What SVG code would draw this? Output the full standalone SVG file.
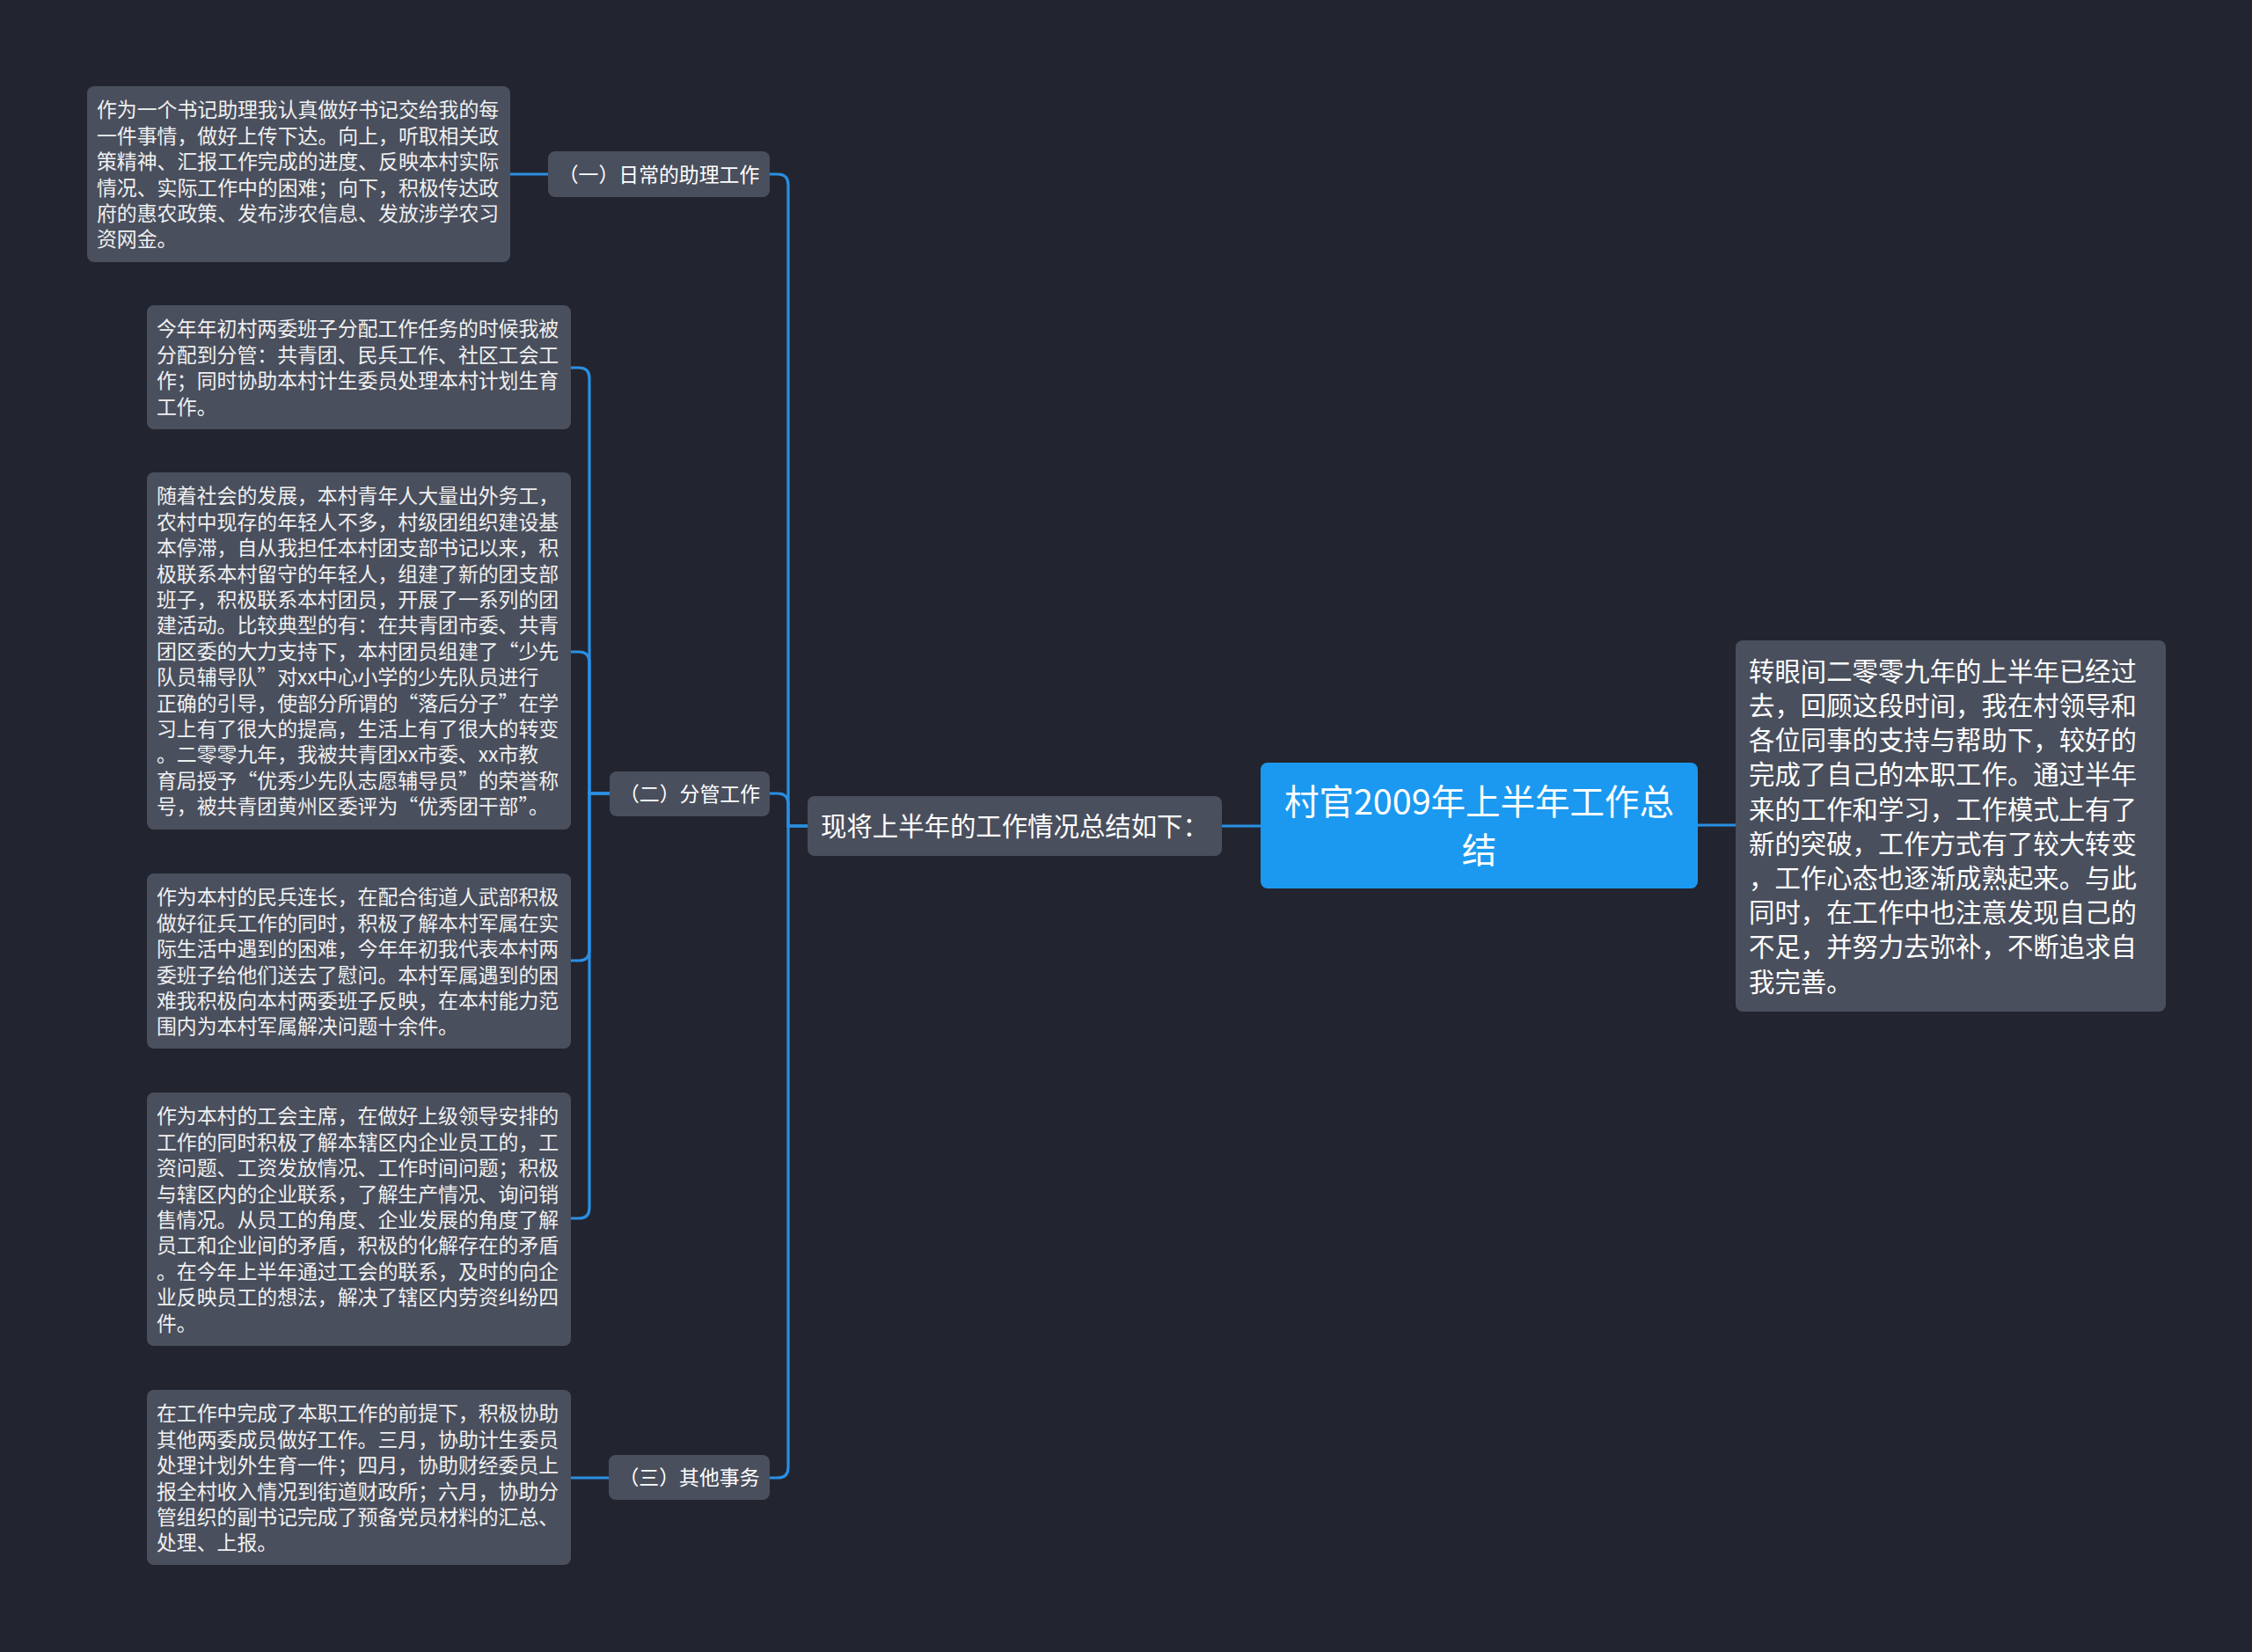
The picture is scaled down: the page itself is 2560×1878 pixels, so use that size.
<svg xmlns="http://www.w3.org/2000/svg" width="2560" height="1878" viewBox="0 0 2560 1878">
<style>
.bg{fill:#22252f}
.node{fill:#4a4f5d}
.root{fill:#1b99f0}
.conn{fill:none;stroke:#2a8fe4;stroke-width:3.2;stroke-linecap:round}
text{font-family:"Noto Sans CJK SC","Liberation Sans",sans-serif;fill:#ffffff}
.leaf{font-size:22.86px;fill:#f0f0f0}
.lbl{font-size:22.86px;text-anchor:middle}
.big{font-size:29.4px}
.rt{font-size:39.5px;text-anchor:middle}
</style>
<rect class="bg" x="0" y="0" width="2560" height="1878"/>
<g id="connectors">
<path class="conn" d="M918,939 H896 V210 Q896,198 884,198 H875"/>
<path class="conn" d="M918,939 H896 V914 Q896,902 884,902 H875"/>
<path class="conn" d="M918,939 H896 V1668 Q896,1680 884,1680 H875"/>
<path class="conn" d="M623,198 H580"/>
<path class="conn" d="M693,902 H670 V430 Q670,418 658,418 H649"/>
<path class="conn" d="M693,902 H670 V753 Q670,741 658,741 H649"/>
<path class="conn" d="M693,902 H670 V1080 Q670,1092 658,1092 H649"/>
<path class="conn" d="M693,902 H670 V1373 Q670,1385 658,1385 H649"/>
<path class="conn" d="M692,1680 H649"/>
<path class="conn" d="M1433,939 H1389"/>
<path class="conn" d="M1930,938 H1973"/>
</g>
<g id="root">
<rect class="root" x="1433" y="867" width="497" height="143" rx="8"/>
<text class="rt" x="1681.5" y="926">村官2009年上半年工作总</text>
<text class="rt" x="1681.5" y="981">结</text>
</g>
<g id="summary">
<rect class="node" x="1973" y="728" width="489" height="422" rx="8"/>
<text class="big" x="1988" y="773.8">转眼间二零零九年的上半年已经过</text>
<text class="big" x="1988" y="813">去，回顾这段时间，我在村领导和</text>
<text class="big" x="1988" y="852.2">各位同事的支持与帮助下，较好的</text>
<text class="big" x="1988" y="891.4">完成了自己的本职工作。通过半年</text>
<text class="big" x="1988" y="930.6">来的工作和学习，工作模式上有了</text>
<text class="big" x="1988" y="969.8">新的突破，工作方式有了较大转变</text>
<text class="big" x="1988" y="1009">，工作心态也逐渐成熟起来。与此</text>
<text class="big" x="1988" y="1048.2">同时，在工作中也注意发现自己的</text>
<text class="big" x="1988" y="1087.4">不足，并努力去弥补，不断追求自</text>
<text class="big" x="1988" y="1126.6">我完善。</text>
</g>
<g id="main">
<rect class="node" x="918" y="905" width="471" height="68" rx="8"/>
<text class="big" x="933" y="950">现将上半年的工作情况总结如下：</text>
</g>
<g id="label1">
<rect class="node" x="623" y="172" width="252" height="52" rx="8"/>
<text class="lbl" x="749" y="206.7">（一）日常的助理工作</text>
</g>
<g id="label2">
<rect class="node" x="693" y="877" width="182" height="51" rx="8"/>
<text class="lbl" x="784" y="911.2">（二）分管工作</text>
</g>
<g id="label3">
<rect class="node" x="692" y="1654" width="183" height="51" rx="8"/>
<text class="lbl" x="783.5" y="1688.2">（三）其他事务</text>
</g>
<g id="leaf1">
<rect class="node" x="99" y="98" width="481" height="200" rx="8"/>
<text class="leaf" x="110" y="133.4">作为一个书记助理我认真做好书记交给我的每</text>
<text class="leaf" x="110" y="162.8">一件事情，做好上传下达。向上，听取相关政</text>
<text class="leaf" x="110" y="192.2">策精神、汇报工作完成的进度、反映本村实际</text>
<text class="leaf" x="110" y="221.6">情况、实际工作中的困难；向下，积极传达政</text>
<text class="leaf" x="110" y="251">府的惠农政策、发布涉农信息、发放涉学农习</text>
<text class="leaf" x="110" y="280.4">资网金。</text>
</g>
<g id="leaf2">
<rect class="node" x="167" y="347" width="482" height="141" rx="8"/>
<text class="leaf" x="178" y="382.4">今年年初村两委班子分配工作任务的时候我被</text>
<text class="leaf" x="178" y="411.8">分配到分管：共青团、民兵工作、社区工会工</text>
<text class="leaf" x="178" y="441.2">作；同时协助本村计生委员处理本村计划生育</text>
<text class="leaf" x="178" y="470.6">工作。</text>
</g>
<g id="leaf3">
<rect class="node" x="167" y="537" width="482" height="406" rx="8"/>
<text class="leaf" x="178" y="572.4">随着社会的发展，本村青年人大量出外务工，</text>
<text class="leaf" x="178" y="601.8">农村中现存的年轻人不多，村级团组织建设基</text>
<text class="leaf" x="178" y="631.2">本停滞，自从我担任本村团支部书记以来，积</text>
<text class="leaf" x="178" y="660.6">极联系本村留守的年轻人，组建了新的团支部</text>
<text class="leaf" x="178" y="690">班子，积极联系本村团员，开展了一系列的团</text>
<text class="leaf" x="178" y="719.4">建活动。比较典型的有：在共青团市委、共青</text>
<text class="leaf" x="178" y="748.8">团区委的大力支持下，本村团员组建了“少先</text>
<text class="leaf" x="178" y="778.2">队员辅导队”对xx中心小学的少先队员进行</text>
<text class="leaf" x="178" y="807.6">正确的引导，使部分所谓的“落后分子”在学</text>
<text class="leaf" x="178" y="837">习上有了很大的提高，生活上有了很大的转变</text>
<text class="leaf" x="178" y="866.4">。二零零九年，我被共青团xx市委、xx市教</text>
<text class="leaf" x="178" y="895.8">育局授予“优秀少先队志愿辅导员”的荣誉称</text>
<text class="leaf" x="178" y="925.2">号，被共青团黄州区委评为“优秀团干部”。</text>
</g>
<g id="leaf4">
<rect class="node" x="167" y="993" width="482" height="199" rx="8"/>
<text class="leaf" x="178" y="1028.4">作为本村的民兵连长，在配合街道人武部积极</text>
<text class="leaf" x="178" y="1057.8">做好征兵工作的同时，积极了解本村军属在实</text>
<text class="leaf" x="178" y="1087.2">际生活中遇到的困难，今年年初我代表本村两</text>
<text class="leaf" x="178" y="1116.6">委班子给他们送去了慰问。本村军属遇到的困</text>
<text class="leaf" x="178" y="1146">难我积极向本村两委班子反映，在本村能力范</text>
<text class="leaf" x="178" y="1175.4">围内为本村军属解决问题十余件。</text>
</g>
<g id="leaf5">
<rect class="node" x="167" y="1242" width="482" height="288" rx="8"/>
<text class="leaf" x="178" y="1277.4">作为本村的工会主席，在做好上级领导安排的</text>
<text class="leaf" x="178" y="1306.8">工作的同时积极了解本辖区内企业员工的，工</text>
<text class="leaf" x="178" y="1336.2">资问题、工资发放情况、工作时间问题；积极</text>
<text class="leaf" x="178" y="1365.6">与辖区内的企业联系，了解生产情况、询问销</text>
<text class="leaf" x="178" y="1395">售情况。从员工的角度、企业发展的角度了解</text>
<text class="leaf" x="178" y="1424.4">员工和企业间的矛盾，积极的化解存在的矛盾</text>
<text class="leaf" x="178" y="1453.8">。在今年上半年通过工会的联系，及时的向企</text>
<text class="leaf" x="178" y="1483.2">业反映员工的想法，解决了辖区内劳资纠纷四</text>
<text class="leaf" x="178" y="1512.6">件。</text>
</g>
<g id="leaf6">
<rect class="node" x="167" y="1580" width="482" height="199" rx="8"/>
<text class="leaf" x="178" y="1615.4">在工作中完成了本职工作的前提下，积极协助</text>
<text class="leaf" x="178" y="1644.8">其他两委成员做好工作。三月，协助计生委员</text>
<text class="leaf" x="178" y="1674.2">处理计划外生育一件；四月，协助财经委员上</text>
<text class="leaf" x="178" y="1703.6">报全村收入情况到街道财政所；六月，协助分</text>
<text class="leaf" x="178" y="1733">管组织的副书记完成了预备党员材料的汇总、</text>
<text class="leaf" x="178" y="1762.4">处理、上报。</text>
</g>
</svg>
